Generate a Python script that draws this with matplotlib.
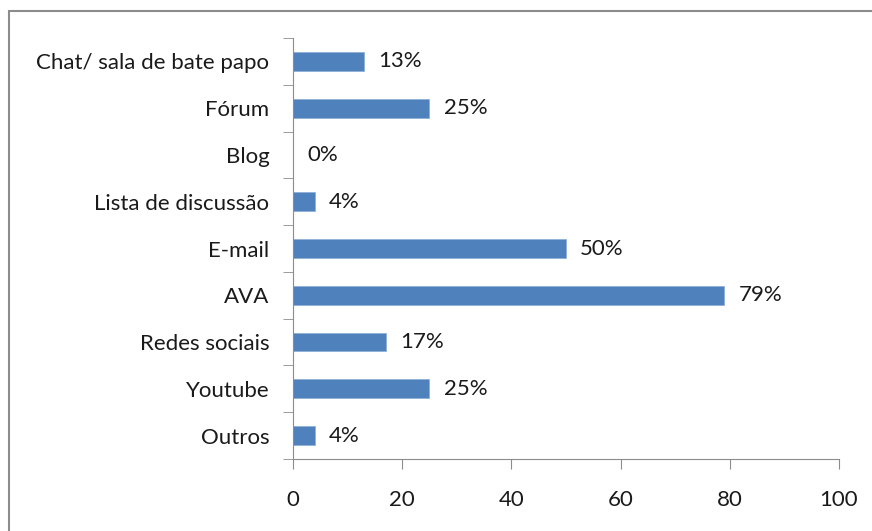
import numpy as np
import matplotlib.pyplot as plt
from matplotlib.patches import Rectangle

# data (top to bottom)
categorias = ["Chat/ sala de bate papo", "Fórum", "Blog", "Lista de discussão",
              "E-mail", "AVA", "Redes sociais", "Youtube", "Outros"]
valores = [13, 25, 0, 4, 50, 79, 17, 25, 4]
xticks = [0, 20, 40, 60, 80, 100]

plt.rcParams['font.family'] = ['Lato', 'DejaVu Sans']
fs = 16

fig = plt.figure(figsize=(8.72, 5.31), dpi=100)
ax = fig.add_axes([0.336, 0.1356, 0.626, 0.7928])

# outer frame of the chart area
fig.patches.append(Rectangle((9/872, -0.1), 2, 1.1 - 11/531, transform=fig.transFigure,
                             fill=False, edgecolor='#8c8c8c', linewidth=1.5))

n = len(categorias)
y = np.arange(n)[::-1]
ax.barh(y, valores, height=0.4, color='#4f81bd', edgecolor='#8fb0d8', linewidth=0.6)

for yi, v in zip(y, valores):
    ax.text(v + 2.6, yi, "%d%%" % v, va='center', ha='left', fontsize=fs, color='#1a1a1a')

ax.set_xlim(0, 100)
ax.set_ylim(-0.5, n - 0.5)
ax.set_xticks(xticks)
ax.set_yticks(y)
ax.set_yticklabels(categorias, fontsize=fs, color='#1a1a1a')
ax.set_yticks(np.arange(n + 1) - 0.5, minor=True)
ax.tick_params(axis='y', which='major', length=0, pad=17)
ax.tick_params(axis='y', which='minor', length=7, color='#8c8c8c', direction='out')
ax.tick_params(axis='x', length=7, color='#8c8c8c', direction='out', pad=15,
               labelsize=fs, labelcolor='#1a1a1a')

for s in ['top', 'right']:
    ax.spines[s].set_visible(False)
for s in ['left', 'bottom']:
    ax.spines[s].set_color('#8c8c8c')

fig.savefig("out.png", dpi=100)
